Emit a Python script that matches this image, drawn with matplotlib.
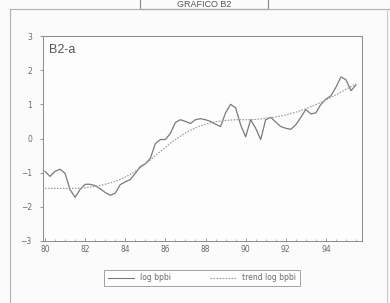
import numpy as np
import matplotlib
matplotlib.use('Agg')
import matplotlib.pyplot as plt
from matplotlib.lines import Line2D
from matplotlib.patches import Rectangle

# quarterly observations 1980Q1 .. 1995Q3
start_year = 80
log_bpbi = [-0.96, -1.11, -0.96, -0.90, -1.02, -1.50, -1.72, -1.49,
            -1.34, -1.34, -1.38, -1.47, -1.58, -1.66, -1.60, -1.35,
            -1.27, -1.20, -1.02, -0.82, -0.74, -0.58, -0.15, -0.03,
            -0.03, 0.15, 0.47, 0.55, 0.50, 0.44, 0.55, 0.58,
            0.55, 0.50, 0.42, 0.35, 0.75, 1.00, 0.90, 0.40,
            0.05, 0.55, 0.30, -0.03, 0.55, 0.62, 0.48, 0.35,
            0.30, 0.27, 0.40, 0.62, 0.85, 0.72, 0.75, 1.00,
            1.15, 1.25, 1.50, 1.80, 1.72, 1.40, 1.57]
trend_log_bpbi = [-1.46, -1.46, -1.46, -1.46, -1.46, -1.46, -1.46, -1.45,
                  -1.44, -1.42, -1.40, -1.37, -1.34, -1.30, -1.25, -1.20,
                  -1.13, -1.05, -0.96, -0.86, -0.75, -0.63, -0.50, -0.38,
                  -0.26, -0.14, -0.03, 0.07, 0.16, 0.24, 0.31, 0.37,
                  0.42, 0.46, 0.49, 0.51, 0.53, 0.54, 0.55, 0.55,
                  0.55, 0.55, 0.56, 0.57, 0.59, 0.61, 0.63, 0.66,
                  0.69, 0.73, 0.77, 0.82, 0.87, 0.93, 0.99, 1.06,
                  1.13, 1.20, 1.28, 1.36, 1.44, 1.52, 1.60]
year_ticks = [80, 82, 84, 86, 88, 90, 92, 94]
y_ticks = [-3, -2, -1, 0, 1, 2, 3]

t = start_year + np.arange(len(log_bpbi)) / 4.0

INK = '#6a6a6a'
LINE = '#7a7a7a'
TREND = '#9a9a9a'

fig = plt.figure(figsize=(3.9, 3.03), dpi=100)
fig.patch.set_facecolor('#fbfbfb')

# scanned page frame + title box
fig.add_artist(Line2D([10/390, 1.0], [1-9/303, 1-9/303], color='#b0b0b0', lw=0.8))
fig.add_artist(Line2D([10/390, 10/390], [0, 1-9/303], color='#b0b0b0', lw=0.8))
fig.add_artist(Line2D([387/390, 387/390], [0, 1-9/303], color='#c8c8c8', lw=0.8))
fig.add_artist(Rectangle((140/390, 1-9/303), 128/390, 12/303, transform=fig.transFigure,
                         facecolor='#fbfbfb', edgecolor='#909090', lw=0.9))
fig.text(204/390, 1-4.5/303, 'GRAFICO B2', ha='center', va='center',
         fontsize=6.5, color='#555555', fontfamily='Liberation Sans')

ax = fig.add_axes([43/390, 1-241/303, 319/390, 205/303])
ax.set_facecolor('#fdfdfd')
ax.plot(t, log_bpbi, color=LINE, lw=0.9, solid_joinstyle='round')
ax.plot(t, trend_log_bpbi, color=TREND, lw=0.8, linestyle=(0, (1.5, 1.2)))

ax.set_xlim(79.9, 95.8)
ax.set_ylim(-3, 3)
ax.set_xticks(year_ticks)
ax.set_xticklabels([str(y) for y in year_ticks])
ax.set_xticks(np.arange(80, 96, 0.5), minor=True)
ax.set_yticks(y_ticks)
ax.tick_params(axis='x', direction='in', length=2, width=0.5, colors=INK,
               labelsize=5.5, pad=3)
ax.tick_params(axis='x', which='minor', direction='in', length=1.5, width=0.5, colors='#999999')
ax.tick_params(axis='y', direction='out', length=2, width=0.5, colors=INK,
               labelsize=5.5, pad=6)
for s in ax.spines.values():
    s.set_color('#8a8a8a')
    s.set_linewidth(0.7)

ax.text(0.018, 0.93, 'B2-a', transform=ax.transAxes, fontsize=9,
        color='#555555', va='center', fontfamily='Liberation Sans')

leg = fig.legend(handles=[Line2D([], [], color=LINE, lw=0.8, label='log bpbi'),
                          Line2D([], [], color=TREND, lw=0.8, linestyle=(0, (1.5, 1.2)),
                                 label='trend log bpbi')],
                 loc='center', bbox_to_anchor=(202/390, 1-278/303), ncol=2,
                 fontsize=5.5, frameon=True, fancybox=False, handlelength=3.5,
                 columnspacing=5, borderpad=0.5, handletextpad=0.8)
leg.get_frame().set_edgecolor('#8a8a8a')
leg.get_frame().set_linewidth(0.7)
for txt in leg.get_texts():
    txt.set_color(INK)

fig.savefig('out.png', dpi=100, facecolor=fig.get_facecolor())
